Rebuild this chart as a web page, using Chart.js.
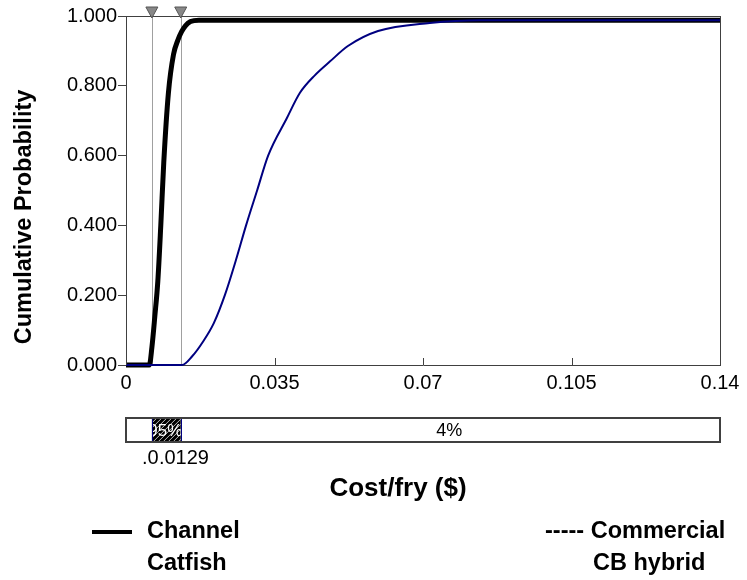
<!DOCTYPE html>
<html>
<head>
<meta charset="utf-8">
<script src="https://cdn.jsdelivr.net/npm/chart.js@4/dist/chart.umd.min.js"></script>
<style>
  html, body { margin: 0; padding: 0; background: #fff; }
  #wrap { width: 747px; height: 580px; }
</style>
</head>
<body>
<div id="wrap"><canvas id="chart" width="747" height="580"></canvas></div>
<script>
// Cumulative probability of cost per fry

const channelX = [0, 0.0055, 0.0061, 0.0068, 0.0075, 0.0082, 0.0089, 0.0100, 0.0112, 0.0122, 0.0131, 0.0140, 0.0152, 0.0172, 0.14];
const channelY = [0, 0, 0.05, 0.14, 0.24, 0.40, 0.58, 0.78, 0.89, 0.93, 0.955, 0.972, 0.984, 0.988, 0.988];

const hybridX = [0, 0.0132, 0.0156, 0.0181, 0.0207, 0.0233, 0.0259, 0.0283, 0.0309, 0.0335, 0.0379, 0.0410, 0.0445, 0.0481, 0.0523, 0.0594, 0.0716, 0.0834, 0.14];
const hybridY = [0, 0, 0.025, 0.066, 0.12, 0.20, 0.30, 0.40, 0.50, 0.60, 0.707, 0.78, 0.83, 0.87, 0.914, 0.957, 0.98, 0.988, 0.988];

const xTicks = [0, 0.035, 0.07, 0.105, 0.14];
const xTickLabels = ['0', '0.035', '0.07', '0.105', '0.14'];
const yTicks = [0, 0.2, 0.4, 0.6, 0.8, 1.0];
const yTickLabels = ['0.000', '0.200', '0.400', '0.600', '0.800', '1.000'];

// 5% / 95% markers and the band bar under the plot
const markerValues = [0.0061, 0.0129];
const markerLabels = ['.0061', '.0129'];
const bandLabels = ['95%', '4%'];

const seriesNames = ['Channel', 'Catfish', '----- Commercial', 'CB hybrid'];
const axisTitles = ['Cumulative Probability', 'Cost/fry ($)'];

const FONT = 'Arial, "Liberation Sans", sans-serif';

function toPoints(xs, ys) {
    return xs.map((x, i) => ({ x: x, y: ys[i] }));
}

const extras = {
    id: 'extras',
    beforeDatasetsDraw(chart) {
        const ctx = chart.ctx;
        const area = chart.chartArea;
        const xs = chart.scales.x;
        ctx.save();
        // gray marker lines
        ctx.strokeStyle = '#a0a0a0';
        ctx.lineWidth = 1;
        markerValues.forEach(v => {
            const px = Math.round(xs.getPixelForValue(v)) + 0.5;
            ctx.beginPath();
            ctx.moveTo(px, area.top);
            ctx.lineTo(px, area.bottom);
            ctx.stroke();
        });
        ctx.restore();
    },
    afterDraw(chart) {
        const ctx = chart.ctx;
        const area = chart.chartArea;
        const xs = chart.scales.x;
        ctx.save();

        // frame top and right
        ctx.strokeStyle = '#404040';
        ctx.lineWidth = 1;
        ctx.beginPath();
        ctx.moveTo(area.left, Math.round(area.top) + 0.5);
        ctx.lineTo(area.right, Math.round(area.top) + 0.5);
        ctx.moveTo(Math.round(area.right) + 0.5, area.top);
        ctx.lineTo(Math.round(area.right) + 0.5, area.bottom);
        ctx.stroke();

        // inner tick marks on x axis
        xTicks.forEach(v => {
            const px = Math.round(xs.getPixelForValue(v)) + 0.5;
            ctx.beginPath();
            ctx.moveTo(px, area.bottom);
            ctx.lineTo(px, area.bottom - 7);
            ctx.stroke();
        });

        // triangles on top
        markerValues.forEach(v => {
            const px = xs.getPixelForValue(v);
            ctx.beginPath();
            ctx.moveTo(px - 6, area.top - 9);
            ctx.lineTo(px + 6, area.top - 9);
            ctx.lineTo(px, area.top + 2);
            ctx.closePath();
            ctx.fillStyle = '#888888';
            ctx.fill();
            ctx.strokeStyle = '#555555';
            ctx.stroke();
        });

        // band bar
        const barTop = 418, barH = 24;
        const x0 = xs.getPixelForValue(0);
        const x1 = xs.getPixelForValue(0.14);
        const m0 = xs.getPixelForValue(markerValues[0]);
        const m1 = xs.getPixelForValue(markerValues[1]);

        ctx.fillStyle = '#000000';
        ctx.fillRect(m0, barTop, m1 - m0, barH);
        ctx.save();
        ctx.beginPath();
        ctx.rect(m0, barTop, m1 - m0, barH);
        ctx.clip();
        ctx.strokeStyle = '#bbbbbb';
        ctx.lineWidth = 1;
        for (let k = -barH; k < m1 - m0 + barH; k += 5) {
            ctx.beginPath();
            ctx.moveTo(m0 + k, barTop + barH);
            ctx.lineTo(m0 + k + barH, barTop);
            ctx.stroke();
        }
        ctx.fillStyle = '#ffffff';
        ctx.font = '17px ' + FONT;
        ctx.textAlign = 'center';
        ctx.textBaseline = 'middle';
        ctx.fillText(bandLabels[0], (m0 + m1) / 2 - 1, barTop + barH / 2 + 1);
        ctx.restore();

        ctx.strokeStyle = '#000080';
        ctx.lineWidth = 1;
        [m0, m1].forEach(px => {
            ctx.beginPath();
            ctx.moveTo(Math.round(px) + 0.5, barTop);
            ctx.lineTo(Math.round(px) + 0.5, barTop + barH);
            ctx.stroke();
        });

        ctx.strokeStyle = '#404040';
        ctx.lineWidth = 2;
        ctx.strokeRect(x0, barTop, x1 - x0, barH);

        ctx.fillStyle = '#000000';
        ctx.font = '18px ' + FONT;
        ctx.textAlign = 'center';
        ctx.textBaseline = 'middle';
        ctx.fillText(bandLabels[1], (m1 + x1) / 2 - 1, barTop + barH / 2 + 1);

        // marker value labels (second one overlaps the first)
        ctx.font = '20px ' + FONT;
        ctx.textBaseline = 'middle';
        ctx.textAlign = 'left';
        ctx.fillText(markerLabels[0], m0 - 10, 458);
        const w1 = ctx.measureText(markerLabels[1]).width;
        ctx.fillStyle = '#ffffff';
        ctx.fillRect(m0 + 7, 446, w1 + 2, 24);
        ctx.fillStyle = '#000000';
        ctx.fillText(markerLabels[1], m0 + 7, 458);

        // axis titles
        ctx.font = 'bold 26px ' + FONT;
        ctx.textAlign = 'center';
        ctx.textBaseline = 'middle';
        ctx.fillText(axisTitles[1], 398, 489);
        ctx.save();
        ctx.font = 'bold 23.5px ' + FONT;
        ctx.translate(25, 217);
        ctx.rotate(-Math.PI / 2);
        ctx.fillText(axisTitles[0], 0, 0);
        ctx.restore();

        // legend
        ctx.strokeStyle = '#000000';
        ctx.lineWidth = 4;
        ctx.beginPath();
        ctx.moveTo(92, 532);
        ctx.lineTo(132, 532);
        ctx.stroke();
        ctx.font = 'bold 23.5px ' + FONT;
        ctx.textAlign = 'left';
        ctx.fillText(seriesNames[0], 147, 532);
        ctx.fillText(seriesNames[1], 147, 564);
        ctx.fillText(seriesNames[2], 545, 532);
        ctx.fillText(seriesNames[3], 593, 564);

        ctx.restore();
    }
};

new Chart(document.getElementById('chart'), {
    type: 'line',
    data: {
        datasets: [
            {
                label: 'Commercial CB hybrid',
                data: toPoints(hybridX, hybridY),
                borderColor: '#000080',
                borderWidth: 2,
                pointRadius: 0,
                cubicInterpolationMode: 'monotone',
                fill: false
            },
            {
                label: 'Channel Catfish',
                data: toPoints(channelX, channelY),
                borderColor: '#000000',
                borderWidth: 5,
                pointRadius: 0,
                cubicInterpolationMode: 'monotone',
                fill: false
            }
        ]
    },
    options: {
        responsive: false,
        animation: false,
        clip: false,
        layout: {
            padding: { left: 0, top: 16, right: 27, bottom: 0 }
        },
        scales: {
            x: {
                type: 'linear',
                min: 0,
                max: 0.14,
                afterBuildTicks: scale => {
                    scale.ticks = xTicks.map(v => ({ value: v }));
                },
                afterFit: scale => {
                    scale.height = 215;
                },
                ticks: {
                    color: '#000000',
                    padding: 6,
                    maxRotation: 0,
                    font: { family: FONT, size: 20 },
                    callback: (v) => xTickLabels[xTicks.indexOf(v)]
                },
                grid: {
                    drawOnChartArea: false,
                    drawTicks: false
                },
                border: { display: true, color: '#404040', width: 1 }
            },
            y: {
                min: 0,
                max: 1,
                afterBuildTicks: scale => {
                    scale.ticks = yTicks.map(v => ({ value: v }));
                },
                afterFit: scale => {
                    scale.width = 126;
                },
                ticks: {
                    color: '#000000',
                    padding: 1,
                    font: { family: FONT, size: 20 },
                    callback: (v) => yTickLabels[yTicks.indexOf(v)]
                },
                grid: {
                    drawOnChartArea: false,
                    drawTicks: true,
                    tickLength: 8,
                    color: '#404040'
                },
                border: { display: true, color: '#404040', width: 1 }
            }
        },
        plugins: {
            legend: { display: false },
            tooltip: { enabled: false }
        }
    },
    plugins: [extras]
});
</script>
</body>
</html>
